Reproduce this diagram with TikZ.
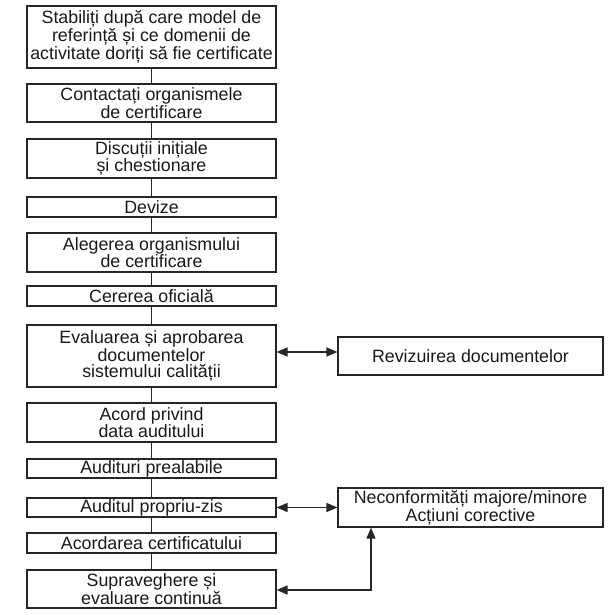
\documentclass[tikz,border=0pt]{standalone}
\usepackage{fontspec}
\setmainfont{Liberation Sans}
\usetikzlibrary{arrows.meta}
\begin{document}
\begin{tikzpicture}[x=1pt,y=-1pt,
  stepbox/.style={draw=black!85,line width=1.1pt,minimum width=249pt,inner sep=0pt,align=center,
    font=\fontsize{17.8}{16.6}\selectfont,text=black!90},
  sidebox/.style={stepbox,minimum width=265pt},
  link/.style={draw=black!85,line width=1.4pt},
  arr/.style={link,{Triangle[length=11pt,width=9pt]}-{Triangle[length=11pt,width=9pt]}}]
\useasboundingbox (0,0) rectangle (612,615);
\node[stepbox,minimum height=62pt] (b1) at (151.5,37) {Stabiliți după care model de\\referință și ce domenii de\\activitate doriți să fie certificate};
\node[stepbox,minimum height=38pt] (b2) at (151.5,103) {Contactați organismele\\de certificare};
\node[stepbox,minimum height=39pt] (b3) at (151.5,158.5) {Discuții inițiale\\și chestionare};
\node[stepbox,minimum height=20pt] (b4) at (151.5,207) {Devize};
\node[stepbox,minimum height=39pt] (b5) at (151.5,252.5) {Alegerea organismului\\de certificare};
\node[stepbox,minimum height=20pt] (b6) at (151.5,296) {Cererea oficială};
\node[stepbox,minimum height=62pt] (b7) at (151.5,356) {Evaluarea și aprobarea\\documentelor\\sistemului calității};
\node[stepbox,minimum height=39pt] (b8) at (151.5,422.5) {Acord privind\\data auditului};
\node[stepbox,minimum height=19pt] (b9) at (151.5,468.5) {Audituri prealabile};
\node[stepbox,minimum height=19pt] (b10) at (151.5,507.5) {Auditul propriu-zis};
\node[stepbox,minimum height=20pt] (b11) at (151.5,543) {Acordarea certificatului};
\node[stepbox,minimum height=38pt] (b12) at (151.5,589) {Supraveghere și\\evaluare continuă};
\node[sidebox,minimum height=38pt] (r1) at (470.5,356) {Revizuirea documentelor};
\node[sidebox,minimum height=39pt] (r2) at (470.5,507.5) {Neconformități majore/minore\\Acțiuni corective};
\foreach \a/\b in {b1/b2,b2/b3,b3/b4,b4/b5,b5/b6,b6/b7,b7/b8,b8/b9,b9/b10,b10/b11,b11/b12}
  \draw[link] (\a.south) -- (\b.north);
\coordinate (k1) at (276,352);
\draw[arr] (b7.east |- k1) -- (r1.west |- k1);
\draw[arr] (b10.east) -- (r2.west);
\coordinate (k2) at (371,590);
\draw[arr] (r2.south -| k2) -- (k2) -- (b12.east |- k2);
\end{tikzpicture}
\end{document}
